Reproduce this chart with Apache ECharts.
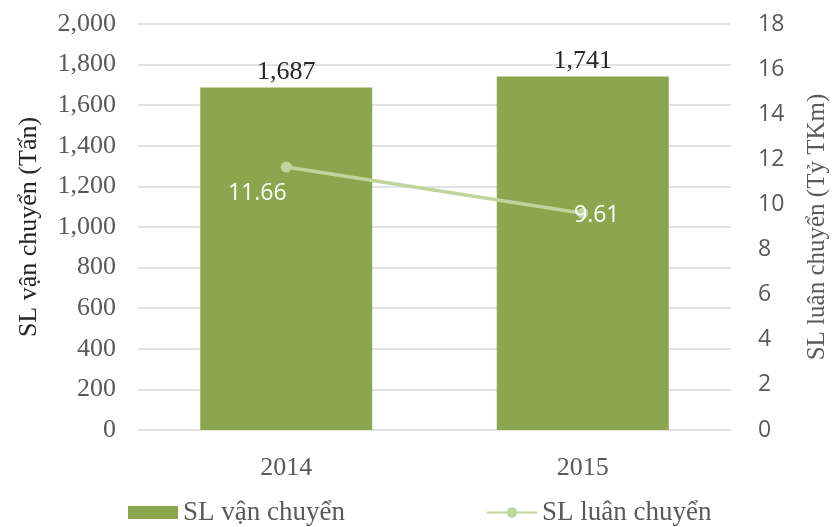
<!DOCTYPE html>
<html>
<head>
<meta charset="utf-8">
<script src="https://cdn.jsdelivr.net/npm/echarts@6/dist/echarts.min.js"></script>
<style>html,body{margin:0;padding:0;background:#fff}#c{width:832px;height:527px}</style>
</head>
<body>
<div id="c"></div>
<script>
const categories = ['2014', '2015'];
const vanChuyen = [1687, 1741];
const luanChuyen = [11.66, 9.61];
const seriesNames = ['SL vận chuyển', 'SL luân chuyển'];
const leftName = 'SL vận chuyển (Tấn)';
const rightName = 'SL luân chuyển (Tỷ TKm)';
const lineLabelOffsets = [[-29, 26], [14, 2]];

const serif = '"Liberation Serif", "Times New Roman", serif';
const sans = '"Open Sans", "Noto Sans", sans-serif';
const chart = echarts.init(document.getElementById('c'));
chart.setOption({
  animation: false,
  grid: { left: 138, right: 101, top: 24, bottom: 97, outerBoundsMode: 'none', containLabel: false },
  legend: {
    left: 128, top: 499, padding: 0, itemWidth: 50, itemHeight: 13, itemGap: 141,
    textStyle: { fontFamily: serif, fontSize: 27, color: '#595959' },
    data: [{ name: seriesNames[0], icon: 'rect' }, { name: seriesNames[1] }]
  },
  xAxis: {
    type: 'category', data: categories,
    axisLine: { show: false }, axisTick: { show: false },
    axisLabel: { fontFamily: serif, fontSize: 26, color: '#595959', margin: 25 }
  },
  yAxis: [{
    type: 'value', min: 0, max: 2000, interval: 200,
    name: leftName, nameLocation: 'middle', nameRotate: 90, nameGap: 96,
    nameTextStyle: { fontFamily: serif, fontSize: 26, color: '#262626' },
    axisLine: { show: false }, axisTick: { show: false },
    axisLabel: { fontFamily: serif, fontSize: 26, color: '#595959', margin: 22,
      formatter: v => v.toLocaleString('en-US') },
    splitLine: { lineStyle: { color: '#d9d9d9', width: 1.5 } }
  }, {
    type: 'value', min: 0, max: 18, interval: 2,
    name: rightName, nameLocation: 'middle', nameRotate: 90, nameGap: 74,
    nameTextStyle: { fontFamily: serif, fontSize: 25, color: '#595959' },
    axisLine: { show: false }, axisTick: { show: false },
    axisLabel: { fontFamily: sans, fontSize: 23, color: '#595959', margin: 27 },
    splitLine: { show: false }
  }],
  series: [{
    name: seriesNames[0], type: 'bar', data: vanChuyen, barWidth: '58%',
    itemStyle: { color: '#8BA64E' },
    label: { show: true, position: 'top', distance: 2, fontFamily: serif, fontSize: 26, color: '#262626',
      formatter: p => p.value.toLocaleString('en-US') }
  }, {
    name: seriesNames[1], type: 'line', yAxisIndex: 1,
    data: luanChuyen.map((v, i) => ({ value: v, label: { offset: lineLabelOffsets[i] } })),
    symbol: 'circle', symbolSize: 11,
    lineStyle: { color: '#C0D59C', width: 3.5 },
    itemStyle: { color: '#C0D59C' },
    label: { show: true, position: 'inside', fontFamily: sans, fontSize: 23, color: '#ffffff' }
  }]
});
</script>
</body>
</html>
